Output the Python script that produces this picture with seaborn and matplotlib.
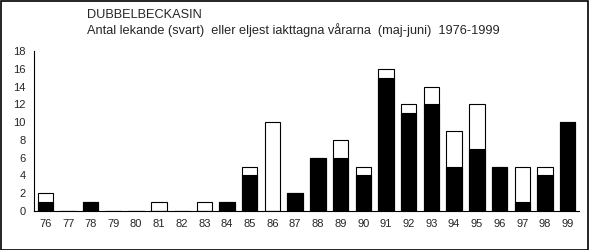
import matplotlib
matplotlib.use("Agg")
import matplotlib.pyplot as plt
import seaborn as sns
import pandas as pd
import numpy as np
from matplotlib.patches import Rectangle

years = ["76","77","78","79","80","81","82","83","84","85","86","87",
         "88","89","90","91","92","93","94","95","96","97","98","99"]
lekande = [1,0,1,0,0,0,0,0,1,4,0,2,6,6,4,15,11,12,5,7,5,1,4,10]
totalt  = [2,0,1,0,0,1,0,1,1,5,10,2,6,8,5,16,12,14,9,12,5,5,5,10]

df = pd.DataFrame({"year": years, "lekande": lekande, "totalt": totalt})

sns.set_style("white")
plt.rcParams['font.family'] = ['Liberation Sans', 'DejaVu Sans']

fig = plt.figure(figsize=(5.89, 2.5), dpi=100)
ax = fig.add_axes([34/589, 1 - 211/250, 545/589, 160/250])

sns.barplot(data=df, x="year", y="totalt", color="white", edgecolor="black",
            linewidth=0.8, width=0.68, ax=ax, saturation=1)
sns.barplot(data=df, x="year", y="lekande", color="black", edgecolor="black",
            linewidth=0.8, width=0.68, ax=ax, saturation=1)

ax.set_xlim(-0.5, len(years) - 0.5)
ax.set_ylim(0, 18)
ax.set_yticks(range(0, 19, 2))
ax.set_xlabel("")
ax.set_ylabel("")
for s in ["top", "right"]:
    ax.spines[s].set_visible(False)
for s in ["left", "bottom"]:
    ax.spines[s].set_color("black")
    ax.spines[s].set_linewidth(0.8)

ax.tick_params(axis="x", which="major", length=0, labelsize=8, pad=6)
ax.set_xticks(np.arange(-0.5, len(years), 1.0), minor=True)
ax.tick_params(axis="x", which="minor", length=4, width=0.8, direction="out", color="black")
ax.tick_params(axis="y", length=4, width=0.8, direction="out", labelsize=8, color="black", pad=2)

fig.text(87/589, 1 - 18/250, "DUBBELBECKASIN", fontsize=9.2, ha="left", va="baseline")
fig.text(87/589, 1 - 34/250, "Antal lekande (svart)  eller eljest iakttagna vårarna  (maj-juni)  1976-1999",
         fontsize=9.2, ha="left", va="baseline")

fig.patches.append(Rectangle((0.5/589, 0.5/250), 1 - 1.5/589, 1 - 1.5/250, transform=fig.transFigure,
                             fill=False, edgecolor="black", linewidth=1.2))

fig.savefig("out.png", dpi=100)
